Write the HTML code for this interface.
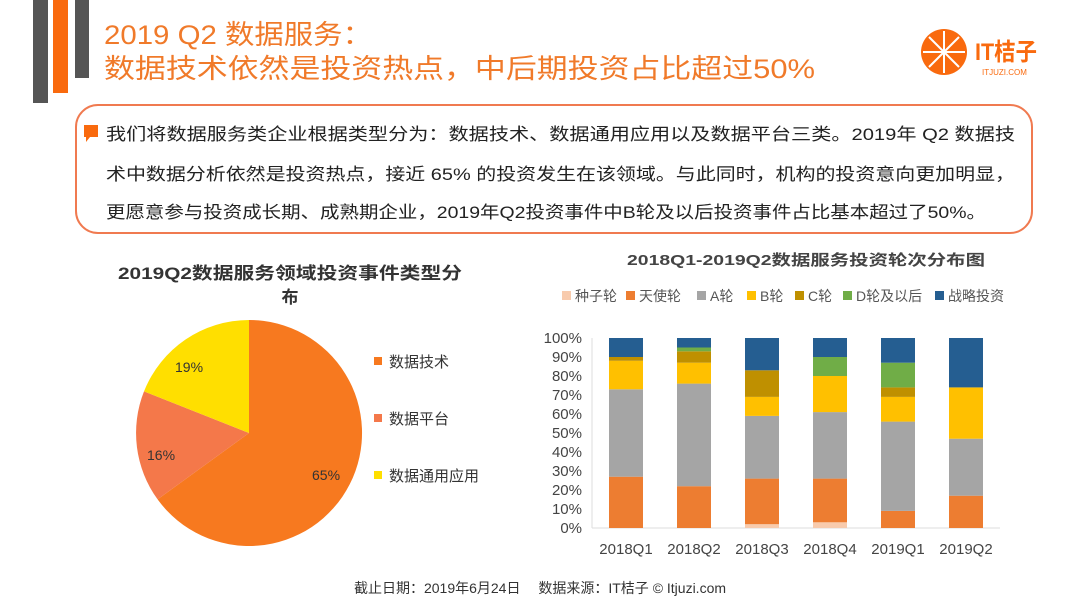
<!DOCTYPE html>
<html><head><meta charset="utf-8"><style>
body{margin:0;width:1080px;height:608px;overflow:hidden;background:#fff;font-family:"Liberation Sans","Noto Sans CJK SC",sans-serif}
</style></head><body>
<svg width="1080" height="608" viewBox="0 0 1080 608" xmlns="http://www.w3.org/2000/svg" font-family="'Liberation Sans','Noto Sans CJK SC',sans-serif">
<rect x="33" y="0" width="15" height="103" fill="#555"/>
<rect x="53" y="0" width="15" height="93" fill="#f96a0e"/>
<rect x="75" y="0" width="14" height="78" fill="#555"/>
<text x="104" y="44" font-size="27" fill="#f07a2a" textLength="268" lengthAdjust="spacingAndGlyphs">2019 Q2 数据服务：</text>
<text x="104" y="78" font-size="27" fill="#f07a2a" textLength="711" lengthAdjust="spacingAndGlyphs">数据技术依然是投资热点，中后期投资占比超过50%</text>
<circle cx="944" cy="52" r="23" fill="#f96a0e"/>
<g stroke="#fff" stroke-width="2">
<line x1="944" y1="31" x2="944" y2="73"/><line x1="923" y1="52" x2="965" y2="52"/>
<line x1="929" y1="37" x2="959" y2="67"/><line x1="959" y1="37" x2="929" y2="67"/></g>
<text x="975" y="60" font-size="24" fill="#f96a0e" font-weight="bold" textLength="62" lengthAdjust="spacingAndGlyphs">IT桔子</text>
<text x="982" y="75" font-size="8" fill="#f96a0e">ITJUZI.COM</text>
<rect x="76" y="105" width="956" height="128" rx="22" fill="#fff" stroke="#f07a50" stroke-width="2"/>
<rect x="84" y="125" width="14" height="12" fill="#f96a0e"/>
<polygon points="86,137 90,137 86,142" fill="#f96a0e"/>
<g font-size="17" fill="#222">
<text x="106" y="140" textLength="909" lengthAdjust="spacingAndGlyphs">我们将数据服务类企业根据类型分为：数据技术、数据通用应用以及数据平台三类。2019年 Q2 数据技</text>
<text x="106" y="180" textLength="909" lengthAdjust="spacingAndGlyphs">术中数据分析依然是投资热点，接近 65% 的投资发生在该领域。与此同时，机构的投资意向更加明显，</text>
<text x="106" y="218" textLength="880" lengthAdjust="spacingAndGlyphs">更愿意参与投资成长期、成熟期企业，2019年Q2投资事件中B轮及以后投资事件占比基本超过了50%。</text>
</g>
<text x="118" y="279" font-size="17" font-weight="bold" fill="#333" textLength="344" lengthAdjust="spacingAndGlyphs">2019Q2数据服务领域投资事件类型分</text>
<text x="290" y="303" font-size="17" font-weight="bold" fill="#333" text-anchor="middle">布</text>
<path d="M249,433 L249,320 A113,113 0 1 1 157.6,499.4 Z" fill="#f7791f"/>
<path d="M249,433 L157.6,499.4 A113,113 0 0 1 144,391.4 Z" fill="#f4784a"/>
<path d="M249,433 L144,391.4 A113,113 0 0 1 249,320 Z" fill="#ffdf00"/>
<g font-size="14" fill="#333">
<text x="312" y="480">65%</text><text x="147" y="460">16%</text><text x="175" y="372">19%</text></g>
<g font-size="15" fill="#333">
<rect x="374" y="357" width="8" height="8" fill="#f7791f"/><text x="389" y="367">数据技术</text>
<rect x="374" y="414" width="8" height="8" fill="#f4784a"/><text x="389" y="424">数据平台</text>
<rect x="374" y="471" width="8" height="8" fill="#ffdf00"/><text x="389" y="481">数据通用应用</text></g>
<text x="627" y="265" font-size="15" font-weight="bold" fill="#444" textLength="358" lengthAdjust="spacingAndGlyphs">2018Q1-2019Q2数据服务投资轮次分布图</text>
<g font-size="14" fill="#555">
<rect x="562" y="291" width="9" height="9" fill="#f8cbad"/><text x="575" y="301">种子轮</text>
<rect x="626" y="291" width="9" height="9" fill="#ed7d31"/><text x="639" y="301">天使轮</text>
<rect x="697" y="291" width="9" height="9" fill="#a5a5a5"/><text x="710" y="301">A轮</text>
<rect x="747" y="291" width="9" height="9" fill="#ffc000"/><text x="760" y="301">B轮</text>
<rect x="795" y="291" width="9" height="9" fill="#bf9000"/><text x="808" y="301">C轮</text>
<rect x="843" y="291" width="9" height="9" fill="#70ad47"/><text x="856" y="301">D轮及以后</text>
<rect x="935" y="291" width="9" height="9" fill="#255e91"/><text x="948" y="301">战略投资</text></g>
<g font-size="15" fill="#444" text-anchor="end">
<text x="582" y="533">0%</text><text x="582" y="514">10%</text><text x="582" y="495">20%</text><text x="582" y="476">30%</text><text x="582" y="457">40%</text><text x="582" y="438">50%</text><text x="582" y="419">60%</text><text x="582" y="400">70%</text><text x="582" y="381">80%</text><text x="582" y="362">90%</text><text x="582" y="343">100%</text></g>
<line x1="592" y1="338" x2="592" y2="528" stroke="#ddd"/>
<line x1="592" y1="528" x2="1000" y2="528" stroke="#ddd"/>
<g font-size="15" fill="#444" text-anchor="middle">
<text x="626" y="554">2018Q1</text><text x="694" y="554">2018Q2</text><text x="762" y="554">2018Q3</text><text x="830" y="554">2018Q4</text><text x="898" y="554">2019Q1</text><text x="966" y="554">2019Q2</text></g>
<text x="540" y="593" font-size="14" fill="#333" text-anchor="middle">截止日期：2019年6月24日　 数据来源：IT桔子 © Itjuzi.com</text>
<g>
<rect x="609" y="476.7" width="34" height="51.3" fill="#ed7d31"/>
<rect x="609" y="389.3" width="34" height="87.4" fill="#a5a5a5"/>
<rect x="609" y="360.8" width="34" height="28.5" fill="#ffc000"/>
<rect x="609" y="357" width="34" height="3.8" fill="#bf9000"/>
<rect x="609" y="338" width="34" height="19" fill="#255e91"/>
<rect x="677" y="486.2" width="34" height="41.8" fill="#ed7d31"/>
<rect x="677" y="383.6" width="34" height="102.6" fill="#a5a5a5"/>
<rect x="677" y="362.7" width="34" height="20.9" fill="#ffc000"/>
<rect x="677" y="351.3" width="34" height="11.4" fill="#bf9000"/>
<rect x="677" y="347.5" width="34" height="3.8" fill="#70ad47"/>
<rect x="677" y="338" width="34" height="9.5" fill="#255e91"/>
<rect x="745" y="524.2" width="34" height="3.8" fill="#f8cbad"/>
<rect x="745" y="478.6" width="34" height="45.6" fill="#ed7d31"/>
<rect x="745" y="415.9" width="34" height="62.7" fill="#a5a5a5"/>
<rect x="745" y="396.9" width="34" height="19" fill="#ffc000"/>
<rect x="745" y="370.3" width="34" height="26.6" fill="#bf9000"/>
<rect x="745" y="338" width="34" height="32.3" fill="#255e91"/>
<rect x="813" y="522.3" width="34" height="5.7" fill="#f8cbad"/>
<rect x="813" y="478.6" width="34" height="43.7" fill="#ed7d31"/>
<rect x="813" y="412.1" width="34" height="66.5" fill="#a5a5a5"/>
<rect x="813" y="376" width="34" height="36.1" fill="#ffc000"/>
<rect x="813" y="357" width="34" height="19" fill="#70ad47"/>
<rect x="813" y="338" width="34" height="19" fill="#255e91"/>
<rect x="881" y="510.9" width="34" height="17.1" fill="#ed7d31"/>
<rect x="881" y="421.6" width="34" height="89.3" fill="#a5a5a5"/>
<rect x="881" y="396.9" width="34" height="24.7" fill="#ffc000"/>
<rect x="881" y="387.4" width="34" height="9.5" fill="#bf9000"/>
<rect x="881" y="362.7" width="34" height="24.7" fill="#70ad47"/>
<rect x="881" y="338" width="34" height="24.7" fill="#255e91"/>
<rect x="949" y="495.7" width="34" height="32.3" fill="#ed7d31"/>
<rect x="949" y="438.7" width="34" height="57" fill="#a5a5a5"/>
<rect x="949" y="387.4" width="34" height="51.3" fill="#ffc000"/>
<rect x="949" y="338" width="34" height="49.4" fill="#255e91"/>
</g>
</svg>
</body></html>
